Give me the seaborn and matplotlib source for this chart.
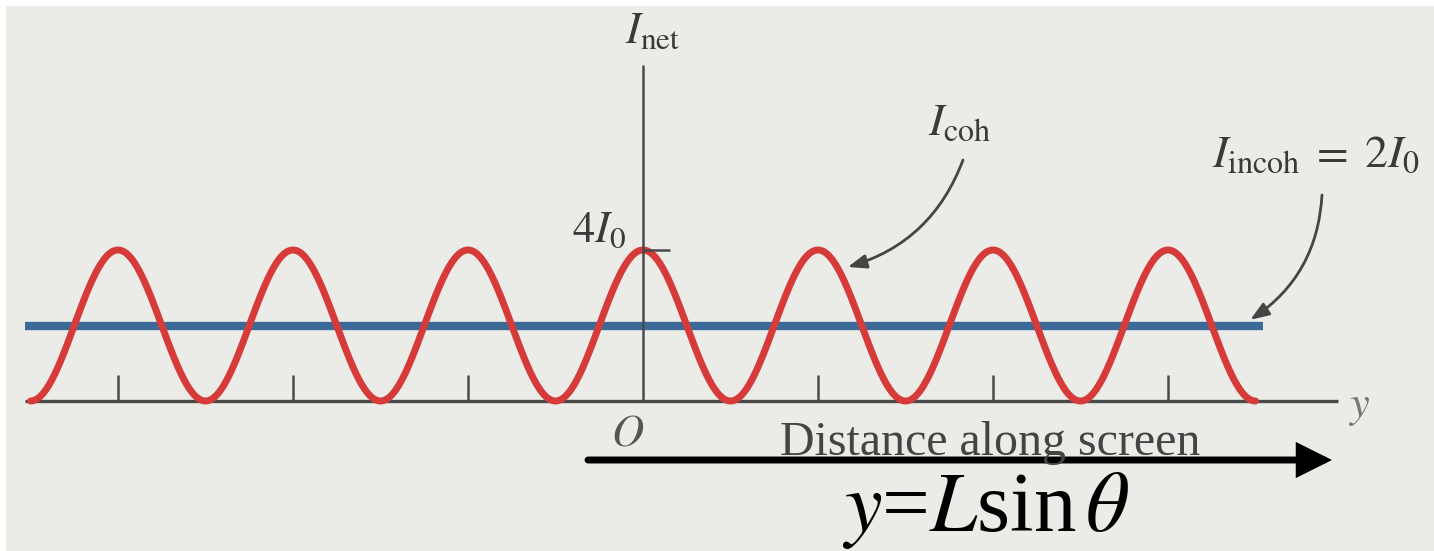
import numpy as np
import pandas as pd
import matplotlib
matplotlib.use("Agg")
import matplotlib.pyplot as plt
import seaborn as sns

# Two-slit pattern on a screen: coherent fringes vs. incoherent sum
I0 = 1.0
peak_intensity = 4 * I0          # maximum of the coherent pattern, 4 I0
incoherent_level = 2 * I0        # I_incoh = 2 I0
fringe_range = (-3.5, 3.5)       # screen positions, in fringe spacings
incoh_range = (-3.53, 3.54)
fringe_ticks = [-3, -2, -1, 1, 2, 3]
axis_extent = (-3.53, 3.97)
vertical_top = 8.9

y_screen = np.linspace(fringe_range[0], fringe_range[1], 1401)
coh = pd.DataFrame({"y": y_screen,
                    "I": peak_intensity * np.cos(np.pi * y_screen) ** 2})
incoh = pd.DataFrame({"y": list(incoh_range),
                      "I": [incoherent_level, incoherent_level]})

sns.set_style("white")
plt.rcParams["mathtext.fontset"] = "stix"
plt.rcParams["font.family"] = ["Liberation Serif", "DejaVu Serif"]

W, H, DPI = 1434, 551, 100
X0, Y0 = 643, 401          # pixel position of the origin
SX, SY = 175.0, 37.75      # pixels per fringe / per I0

RED = "#d63b3a"
BLUE = "#3c6a98"
AXIS = "#4a4a4a"
LABEL = "#3a3a3a"
PAGE = "#ebebe7"

fig = plt.figure(figsize=(W / DPI, H / DPI), dpi=DPI, facecolor="white")
ax = fig.add_axes([6 / W, 0, 1 - 6 / W, 1 - 6 / H])
ax.set_facecolor(PAGE)
ax.set_xlim((6 - X0) / SX, (W - X0) / SX)
ax.set_ylim((Y0 - H) / SY, (Y0 - 6) / SY)
for s in ax.spines.values():
    s.set_visible(False)


def fpos(px, py):
    return px / W, 1 - py / H


# curves
sns.lineplot(data=incoh, x="y", y="I", color=BLUE, lw=6.0, ax=ax,
             zorder=2, solid_capstyle="butt")
sns.lineplot(data=coh, x="y", y="I", color=RED, lw=5.0, ax=ax,
             zorder=3, solid_capstyle="round")

# axes drawn by hand
ax.hlines(0, *axis_extent, color=AXIS, lw=2.4, zorder=1)
ax.vlines(0, 0, vertical_top, color=AXIS, lw=1.8, zorder=4)
ax.vlines(fringe_ticks, 0, 0.69, color=AXIS, lw=1.8, zorder=4)
ax.hlines(peak_intensity, 0, 0.154, color=AXIS, lw=1.8, zorder=4)

ax.set_xticks([])
ax.set_yticks([])
ax.set_xlabel("")
ax.set_ylabel("")

# labels
fs = 32
fig.text(*fpos(625, 43), r"$I_{\mathrm{net}}$", fontsize=fs, color=LABEL,
         ha="left", va="baseline")
fig.text(*fpos(572, 242), r"$4I_0$", fontsize=fs, color=LABEL,
         ha="left", va="baseline")
fig.text(*fpos(928, 135), r"$I_{\mathrm{coh}}$", fontsize=33, color=LABEL,
         ha="left", va="baseline")
fig.text(*fpos(1212, 167), r"$I_{\mathrm{incoh}}\;=\;2I_0$", fontsize=33,
         color=LABEL, ha="left", va="baseline")
fig.text(*fpos(628, 445), r"$O$", fontsize=fs, color="#555555",
         ha="center", va="baseline")
fig.text(*fpos(1348, 417), r"$y$", fontsize=fs, color="#777777",
         ha="left", va="baseline")
fig.text(*fpos(780, 455), "Distance along screen", fontsize=34.5,
         color="#444444", ha="left", va="baseline")
fig.text(*fpos(842, 531), r"$y$=$L$sin$\,\theta$", fontsize=61,
         color="black", ha="left", va="baseline")

# pointer arrows
thin = dict(arrowstyle="-|>,head_length=0.8,head_width=0.3",
            lw=2.0, color="#454545", shrinkA=0, shrinkB=0,
            mutation_scale=14)
ax.annotate("", xy=(1.17, 3.55), xytext=fpos(963, 160),
            textcoords="figure fraction",
            arrowprops=dict(connectionstyle="arc3,rad=-0.25", **thin))
ax.annotate("", xy=(3.47, 2.15), xytext=fpos(1322, 195),
            textcoords="figure fraction",
            arrowprops=dict(connectionstyle="arc3,rad=-0.25", **thin))

# screen-direction arrow
fig.add_artist(matplotlib.patches.FancyArrowPatch(
    fpos(588, 460), fpos(1332, 460), transform=fig.transFigure,
    arrowstyle="-|>,head_length=0.9,head_width=0.45",
    mutation_scale=20, lw=5, color="black", shrinkA=0, shrinkB=0,
    joinstyle="miter"))

fig.savefig("out.png", dpi=DPI, facecolor="white")
